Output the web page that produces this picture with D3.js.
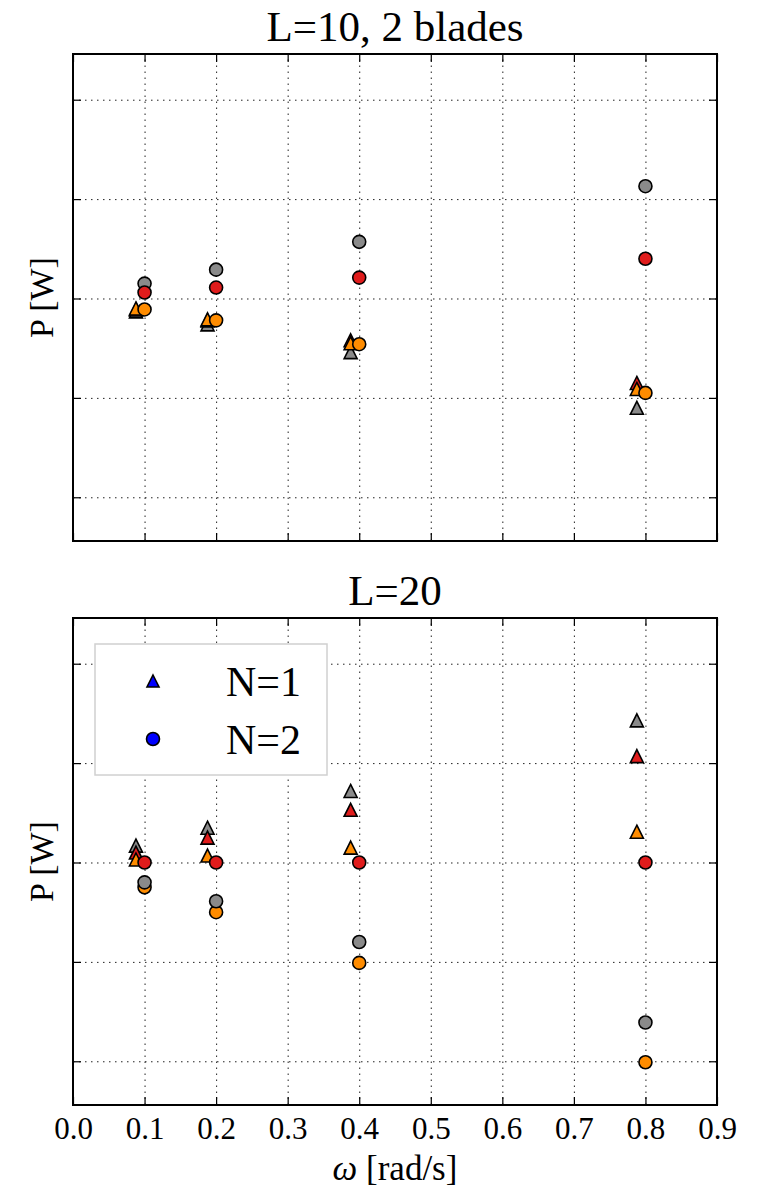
<!DOCTYPE html>
<html>
<head>
<meta charset="utf-8">
<script src="https://d3js.org/d3.v7.min.js"></script>
<style>
  body { margin: 0; background: #fff; }
  svg { display: block; font-family: "Liberation Serif", "DejaVu Serif", serif; }
  .grid line { stroke: #222; stroke-width: 1; stroke-dasharray: 1.5,4.5; }
  .grid path { display: none; }
  .ticks path { display: none; }
  .ticks line { stroke: #000; stroke-width: 1.2; }
</style>
</head>
<body>
<svg id="chart"></svg>
<script>
// x positions (omega, rad/s); triangles are drawn a little to the left
const omegaN2 = [0.1, 0.2, 0.4, 0.8];
const omegaN1 = [0.088, 0.188, 0.388, 0.788];
const xTicks = [0.0, 0.1, 0.2, 0.3, 0.4, 0.5, 0.6, 0.7, 0.8, 0.9];
const yTicks = [0.8, 0.9, 1.0, 1.1, 1.2];

const colorOf = { orange: "#ff8c00", gray: "#8a8a8a", red: "#e01c1c" };
// drawing order differs for the two marker kinds
const triOrder = ["gray", "red", "orange"];
const circOrder = ["orange", "gray", "red"];

// L=10, 2 blades
const top_N1 = {
  orange: [0.990, 0.979, 0.955, 0.909],
  gray:   [0.987, 0.974, 0.946, 0.890],
  red:    [0.989, 0.978, 0.958, 0.915]
};
const top_N2 = {
  orange: [0.989, 0.978, 0.954, 0.905],
  gray:   [1.015, 1.029, 1.057, 1.113],
  red:    [1.006, 1.011, 1.021, 1.040]
};

// L=20
const bot_N1 = {
  orange: [1.003, 1.007, 1.015, 1.031],
  gray:   [1.017, 1.035, 1.072, 1.143],
  red:    [1.010, 1.025, 1.053, 1.107]
};
const bot_N2 = {
  orange: [0.975, 0.950, 0.899, 0.799],
  gray:   [0.980, 0.961, 0.920, 0.839],
  red:    [1.000, 1.000, 1.000, 1.000]
};

const legendLabels = ["N=1", "N=2"];

const WIDTH = 759, HEIGHT = 1194;
const MARGIN = { left: 73, right: 42 };
const PANEL_H = 487;
const PANELS = [
  { title: "L=10, 2 blades", top: 54, n1: top_N1, n2: top_N2, xLabels: false, legend: false },
  { title: "L=20", top: 618, n1: bot_N1, n2: bot_N2, xLabels: true, legend: true }
];

const svg = d3.select("#chart")
  .attr("width", WIDTH)
  .attr("height", HEIGHT);

svg.append("rect").attr("width", WIDTH).attr("height", HEIGHT).attr("fill", "white");

const plotW = WIDTH - MARGIN.left - MARGIN.right;

const x = d3.scaleLinear().domain([0, 0.9]).range([0, plotW]);
const y = d3.scaleLinear().domain([0.756, 1.246]).range([PANEL_H, 0]);

const MS = 13; // marker size px

function trianglePath(s) {
  const h = s / 2;
  return `M0,${-h}L${h},${h}L${-h},${h}Z`;
}
const circlePath = d3.symbol(d3.symbolCircle, Math.PI * (MS / 2) * (MS / 2))();

function drawPanel(p) {
  const g = svg.append("g").attr("transform", `translate(${MARGIN.left},${p.top})`);

  // grid
  g.append("g").attr("class", "grid")
    .attr("transform", `translate(0,${PANEL_H})`)
    .call(d3.axisBottom(x).tickValues(xTicks.slice(1, -1)).tickSize(-PANEL_H).tickFormat(""));
  g.append("g").attr("class", "grid")
    .call(d3.axisLeft(y).tickValues(yTicks).tickSize(-plotW).tickFormat(""));

  // tick marks (inside, all four sides)
  const xb = g.append("g").attr("class", "ticks")
    .attr("transform", `translate(0,${PANEL_H})`)
    .call(d3.axisBottom(x).tickValues(xTicks).tickSizeInner(-8).tickSizeOuter(0)
      .tickPadding(8).tickFormat(p.xLabels ? d3.format(".1f") : ""));
  xb.selectAll("text").attr("fill", "#000").style("font-size", "31px")
    .style("font-family", "Liberation Serif, serif").attr("dy", "0.85em");
  g.append("g").attr("class", "ticks")
    .call(d3.axisTop(x).tickValues(xTicks).tickSizeInner(-8).tickSizeOuter(0).tickFormat(""));
  g.append("g").attr("class", "ticks")
    .call(d3.axisLeft(y).tickValues(yTicks).tickSizeInner(-8).tickSizeOuter(0).tickFormat(""));
  g.append("g").attr("class", "ticks")
    .attr("transform", `translate(${plotW},0)`)
    .call(d3.axisRight(y).tickValues(yTicks).tickSizeInner(-8).tickSizeOuter(0).tickFormat(""));

  // triangles (N=1) first, then circles (N=2)
  triOrder.forEach(name => {
    g.append("g").selectAll("path")
      .data(p.n1[name])
      .join("path")
      .attr("d", trianglePath(MS))
      .attr("transform", (d, j) => `translate(${x(omegaN1[j])},${y(d)})`)
      .attr("fill", colorOf[name])
      .attr("stroke", "#000")
      .attr("stroke-width", 1.6);
  });
  circOrder.forEach(name => {
    g.append("g").selectAll("path")
      .data(p.n2[name])
      .join("path")
      .attr("d", circlePath)
      .attr("transform", (d, j) => `translate(${x(omegaN2[j])},${y(d)})`)
      .attr("fill", colorOf[name])
      .attr("stroke", "#000")
      .attr("stroke-width", 1.6);
  });

  // frame
  g.append("rect")
    .attr("width", plotW).attr("height", PANEL_H)
    .attr("fill", "none").attr("stroke", "#000").attr("stroke-width", 2);

  // title
  g.append("text")
    .attr("x", plotW / 2).attr("y", -13)
    .attr("text-anchor", "middle")
    .style("font-size", "43px")
    .text(p.title);

  // y label
  g.append("text")
    .attr("transform", `translate(${41 - MARGIN.left},${PANEL_H / 2}) rotate(-90)`)
    .attr("text-anchor", "middle")
    .attr("dy", "0.35em")
    .style("font-size", "34px")
    .text("P [W]");

  if (p.legend) {
    const lg = g.append("g").attr("transform", "translate(22,26)");
    lg.append("rect")
      .attr("width", 232).attr("height", 131)
      .attr("fill", "white").attr("stroke", "#d0d0d0").attr("stroke-width", 1.5);
    const rows = [trianglePath(MS - 1), circlePath];
    legendLabels.forEach((lab, i) => {
      lg.append("path")
        .attr("d", rows[i])
        .attr("transform", `translate(58,${37 + i * 58})`)
        .attr("fill", "#0000ff").attr("stroke", "#000").attr("stroke-width", 1.6);
      lg.append("text")
        .attr("x", 131).attr("y", 37 + i * 58)
        .attr("dy", "0.36em")
        .style("font-size", "42px")
        .text(lab);
    });
  }
}

PANELS.forEach(drawPanel);

// x label
const xl = svg.append("text")
  .attr("x", MARGIN.left + plotW / 2)
  .attr("y", 1180)
  .attr("text-anchor", "middle")
  .style("font-size", "35px");
xl.append("tspan").style("font-style", "italic").text("ω");
xl.append("tspan").text(" [rad/s]");
</script>
</body>
</html>
